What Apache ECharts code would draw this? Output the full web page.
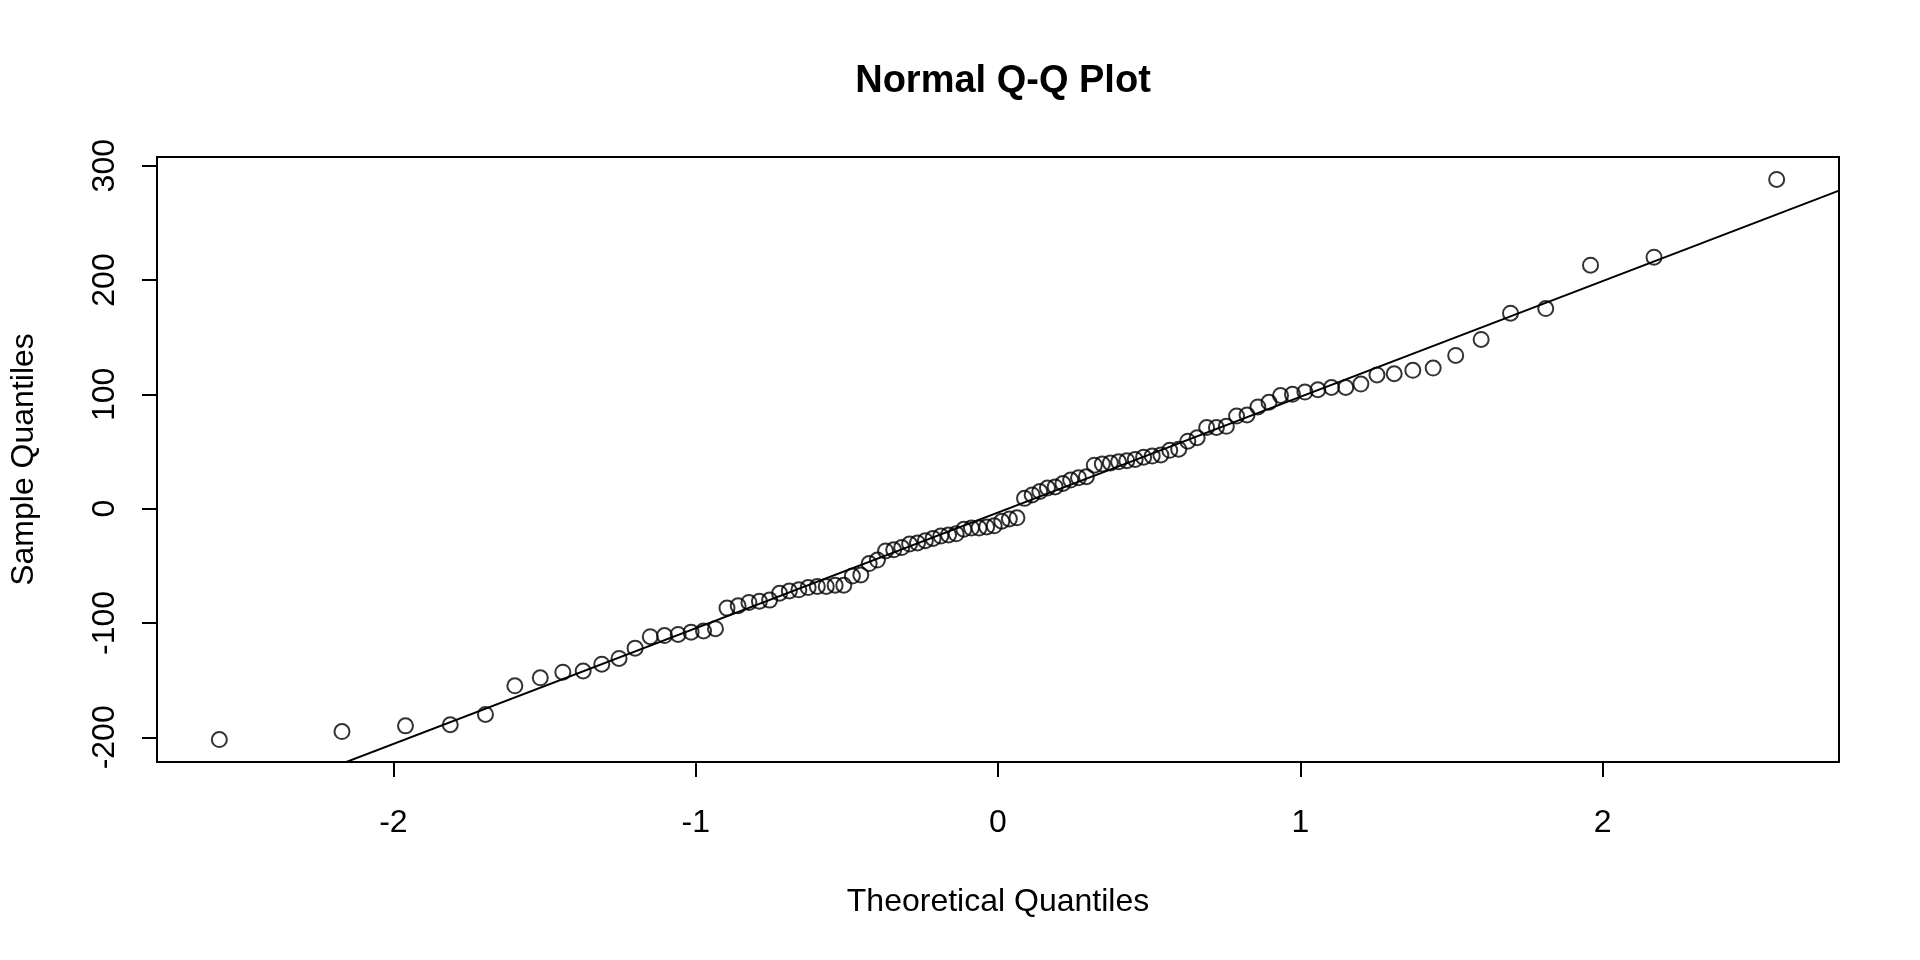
<!DOCTYPE html>
<html lang="en">
<head>
    <meta charset="UTF-8">
    <title>Normal Q-Q Plot</title>
    <script src="https://cdn.jsdelivr.net/npm/echarts@6/dist/echarts.min.js"></script>
    <style>
        html, body { margin: 0; padding: 0; background: #fff; }
        #qq-chart { width: 1920px; height: 960px; }
    </style>
</head>
<body>
<div id="qq-chart"></div>

<script>
    // theoretical quantiles (normal scores of 100 points)
    var theoretical = [
        -2.5758, -2.1701, -1.9600, -1.8119, -1.6954, -1.5982, -1.5141, -1.4395, -1.3722, -1.3106,
        -1.2536, -1.2004, -1.1503, -1.1031, -1.0581, -1.0152, -0.9741, -0.9346, -0.8965, -0.8596,
        -0.8239, -0.7892, -0.7554, -0.7225, -0.6903, -0.6588, -0.6280, -0.5978, -0.5681, -0.5388,
        -0.5101, -0.4817, -0.4538, -0.4261, -0.3989, -0.3719, -0.3451, -0.3186, -0.2924, -0.2663,
        -0.2404, -0.2147, -0.1891, -0.1637, -0.1383, -0.1130, -0.0878, -0.0627, -0.0376, -0.0125,
        0.0125, 0.0376, 0.0627, 0.0878, 0.1130, 0.1383, 0.1637, 0.1891, 0.2147, 0.2404,
        0.2663, 0.2924, 0.3186, 0.3451, 0.3719, 0.3989, 0.4261, 0.4538, 0.4817, 0.5101,
        0.5388, 0.5681, 0.5978, 0.6280, 0.6588, 0.6903, 0.7225, 0.7554, 0.7892, 0.8239,
        0.8596, 0.8965, 0.9346, 0.9741, 1.0152, 1.0581, 1.1031, 1.1503, 1.2004, 1.2536,
        1.3106, 1.3722, 1.4395, 1.5141, 1.5982, 1.6954, 1.8119, 1.9600, 2.1701, 2.5758
    ];
    // sorted sample values
    var sample = [
        -202, -195, -190, -189, -180, -155, -148, -143, -142, -136,
        -131, -122, -112, -111, -110, -108, -107, -105, -87, -85,
        -82, -81, -80, -74, -72, -71, -69, -68, -68, -67,
        -67, -59, -58, -48, -45, -37, -36, -34, -31, -30,
        -28, -26, -24, -23, -22, -18, -17, -17, -16, -15,
        -11, -9, -8, 9, 12, 15, 18, 19, 22, 25,
        27, 28, 38, 39, 40, 41, 42, 43, 45, 46,
        47, 51, 52, 59, 62, 71, 71, 72, 81, 82,
        89, 93, 99, 100, 102, 104, 106, 106, 109, 117,
        118, 121, 123, 134, 148, 171, 175, 213, 220, 288
    ];
    var xTicks = [-2, -1, 0, 1, 2];
    var yTicks = [-200, -100, 0, 100, 200, 300];
    var xRange = [-2.782, 2.782];
    var yRange = [-221.6, 307.6];
    // reference line
    var lineIntercept = -3.4;
    var lineSlope = 101.2;

    var points = [];
    for (var i = 0; i < theoretical.length; i++) {
        points.push([theoretical[i], sample[i]]);
    }
    var refLine = [
        [xRange[0], lineIntercept + lineSlope * xRange[0]],
        [xRange[1], lineIntercept + lineSlope * xRange[1]]
    ];

    var font = "'Liberation Sans', Arial, Helvetica, sans-serif";
    var myChart = echarts.init(document.getElementById('qq-chart'));
    var option = {
        backgroundColor: '#fff',
        animation: false,
        title: {
            text: 'Normal Q-Q Plot',
            left: 998,
            top: 58,
            textAlign: 'center',
            textStyle: { fontFamily: font, fontSize: 38, fontWeight: 'bold', color: '#000' }
        },
        grid: {
            left: 157, right: 81, top: 157, bottom: 198,
            show: true,
            borderColor: '#000',
            borderWidth: 2,
            backgroundColor: 'transparent'
        },
        xAxis: {
            type: 'value',
            min: xRange[0],
            max: xRange[1],
            name: 'Theoretical Quantiles',
            nameLocation: 'middle',
            nameGap: 124,
            nameTextStyle: { fontFamily: font, fontSize: 32, color: '#000' },
            splitLine: { show: false },
            axisLine: { show: false, onZero: false },
            axisTick: {
                show: true, length: 15, customValues: xTicks,
                lineStyle: { color: '#000', width: 2 }
            },
            axisLabel: {
                margin: 45, customValues: xTicks,
                fontFamily: font, fontSize: 32, color: '#000'
            }
        },
        yAxis: {
            type: 'value',
            min: yRange[0],
            max: yRange[1],
            name: 'Sample Quantiles',
            nameLocation: 'middle',
            nameRotate: 90,
            nameGap: 117,
            nameTextStyle: { fontFamily: font, fontSize: 32, color: '#000' },
            splitLine: { show: false },
            axisLine: { show: false, onZero: false },
            axisTick: {
                show: true, length: 15, customValues: yTicks,
                lineStyle: { color: '#000', width: 2 }
            },
            axisLabel: {
                margin: 36, rotate: 90, customValues: yTicks,
                fontFamily: font, fontSize: 32, color: '#000'
            }
        },
        series: [{
            name: 'line',
            type: 'line',
            data: refLine,
            symbol: 'none',
            clip: true,
            lineStyle: { color: '#000', width: 2 },
            silent: true
        }, {
            name: 'sample',
            type: 'scatter',
            data: points,
            symbol: 'circle',
            symbolSize: 15,
            itemStyle: { color: 'rgba(0,0,0,0)', borderColor: '#000', borderWidth: 2 }
        }]
    };
    myChart.setOption(option);
</script>

</body>
</html>
